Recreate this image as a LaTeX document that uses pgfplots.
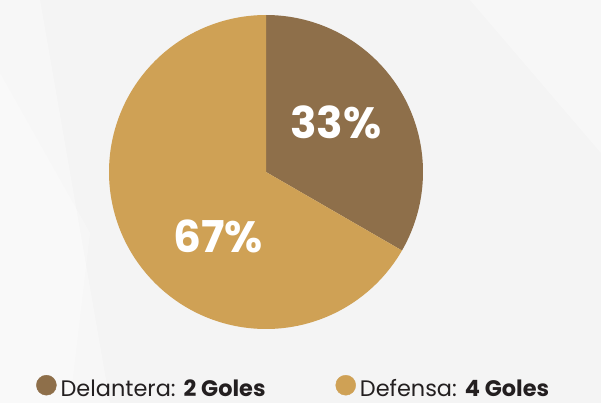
\documentclass[border=0pt]{standalone}
\usepackage{pgfplots}
\pgfplotsset{compat=1.18}
\usepackage{pgfplotstable}
\usepackage{fontspec}
\setmainfont{Poppins}
\definecolor{del}{HTML}{8E6F4A}
\definecolor{def}{HTML}{CFA155}
\definecolor{bg}{HTML}{F4F4F4}
\definecolor{txt}{HTML}{231F20}
\pgfplotstableread{
label value
Delantera 2
Defensa 4
}\goals
\begin{document}
\begin{tikzpicture}
\pgfplotstablegetelem{0}{value}\of\goals \edef\va{\pgfplotsretval}
\pgfplotstablegetelem{1}{value}\of\goals \edef\vb{\pgfplotsretval}
\pgfmathsetmacro{\tot}{\va+\vb}
\pgfmathsetmacro{\aone}{90-360*\va/\tot}
\pgfmathsetmacro{\atwo}{\aone-360*\vb/\tot}
\pgfmathtruncatemacro{\pa}{round(100*\va/\tot)}
\pgfmathtruncatemacro{\pb}{round(100*\vb/\tot)}
\begin{axis}[
  at={(0,0)}, anchor=south west,
  scale only axis, x=1bp, y=1bp,
  xmin=0, xmax=601, ymin=0, ymax=403,
  hide axis, clip=false,
  legend columns=2,
  legend style={at={(axis cs:36,3)}, anchor=south west, draw=none, fill=none,
    font=\fontsize{22.5}{24}\selectfont\color{txt}, inner sep=0pt,
    /tikz/every even column/.append style={column sep=68bp}},
  legend cell align=left,
]
\fill[bg] (axis cs:0,0) rectangle (axis cs:601,403);
\fill[white, opacity=0.35] (axis cs:0,403) -- (axis cs:40,403) -- (axis cs:110,0) -- (axis cs:0,0) -- cycle;
\fill[white, opacity=0.25] (axis cs:0,330) -- (axis cs:90,170) -- (axis cs:70,0) -- (axis cs:0,0) -- cycle;
\fill[white, opacity=0.3] (axis cs:470,403) -- (axis cs:601,403) -- (axis cs:601,250) -- cycle;
\addplot[fill=del, draw=none, domain=\aone:90, samples=120, forget plot]
  ({266+157*cos(x)}, {231+157*sin(x)}) -- (axis cs:266,231) -- cycle;
\addplot[fill=def, draw=none, domain=\atwo:\aone, samples=200, forget plot]
  ({266+157*cos(x)}, {231+157*sin(x)}) -- (axis cs:266,231) -- cycle;
\node[text=white, font=\fontsize{44}{44}\selectfont\bfseries] at (axis cs:336,281) {\pa\%};
\node[text=white, font=\fontsize{44}{44}\selectfont\bfseries] at (axis cs:218,167) {\pb\%};
\addlegendimage{legend image code/.code={\fill[del] (0,0.33em) circle (10bp); \path (12bp,0.33em);}}
\addlegendentry{Delantera: \textbf{\va\ Goles}}
\addlegendimage{legend image code/.code={\fill[def] (0,0.33em) circle (10bp); \path (12bp,0.33em);}}
\addlegendentry{Defensa: \textbf{\vb\ Goles}}
\end{axis}
\end{tikzpicture}
\end{document}
